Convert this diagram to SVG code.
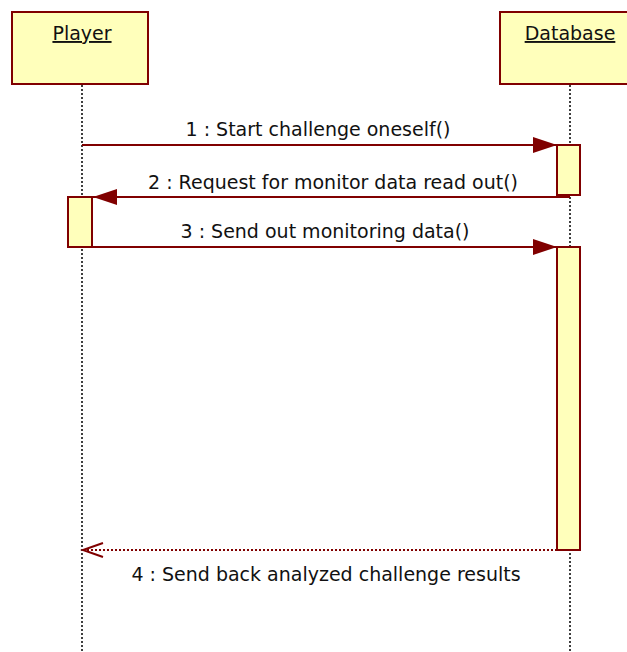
<svg xmlns="http://www.w3.org/2000/svg" width="627" height="652" viewBox="0 0 627 652">
<style>
.box{fill:#ffffbb;stroke:#800000;stroke-width:2}
.act{fill:#ffffbb;stroke:#800000;stroke-width:2}
.life{stroke:#000;stroke-width:1.5;stroke-dasharray:2,2;fill:none}
.msg{stroke:#800000;stroke-width:2;fill:none}
.ret{stroke:#800000;stroke-width:2;stroke-dasharray:2,2;fill:none}
.t{font-family:"DejaVu Sans",Verdana,sans-serif;font-size:19px;fill:#111}
.lbl{font-family:"DejaVu Sans",Verdana,sans-serif;font-size:19px;fill:#111;text-anchor:middle}
</style>
<defs>
<marker id="fill" markerWidth="24" markerHeight="16" refX="24" refY="8" orient="auto" markerUnits="userSpaceOnUse"><path d="M0,0 L24,8 L0,16 Z" fill="#800000"/></marker>
</defs>
<g id="lifelines">
<line class="life" x1="82" y1="85" x2="82" y2="652"/>
<line class="life" x1="570" y1="85" x2="570" y2="652"/>
</g>
<g id="player">
<rect class="box" x="12" y="12" width="136" height="72"/>
<text class="t" x="82" y="40" text-anchor="middle" text-decoration="underline">Player</text>
</g>
<g id="database">
<rect class="box" x="500" y="12" width="140" height="72"/>
<text class="t" x="570" y="40" text-anchor="middle" text-decoration="underline">Database</text>
</g>
<g id="activations">
<rect class="act" x="557" y="145" width="23" height="50"/>
<rect class="act" x="68" y="197" width="24" height="50"/>
<rect class="act" x="557" y="247" width="23" height="303"/>
</g>
<g id="connectors">
<line class="msg" x1="82" y1="145" x2="557" y2="145" marker-end="url(#fill)"/>
<line class="msg" x1="570" y1="197" x2="93" y2="197" marker-end="url(#fill)"/>
<line class="msg" x1="92" y1="247" x2="557" y2="247" marker-end="url(#fill)"/>
<line class="ret" x1="557" y1="550" x2="83" y2="550"/>
<path d="M103,543 L83,550 L103,557" fill="none" stroke="#800000" stroke-width="2"/>
<text class="lbl" x="318" y="136">1 : Start challenge oneself()</text>
<text class="lbl" x="333" y="189">2 : Request for monitor data read out()</text>
<text class="lbl" x="325" y="238">3 : Send out monitoring data()</text>
<text class="lbl" x="326" y="581">4 : Send back analyzed challenge results</text>
</g>
</svg>
